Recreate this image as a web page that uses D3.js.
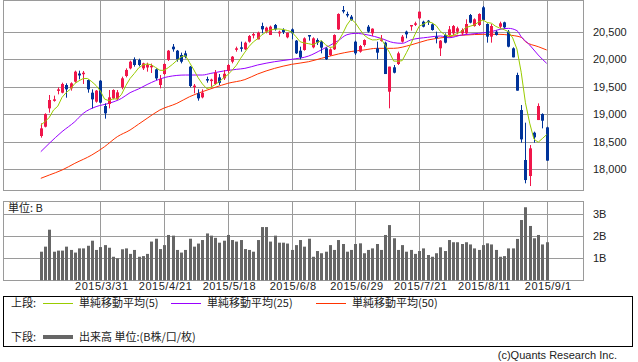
<html>
<head>
<meta charset="utf-8">
<script src="https://d3js.org/d3.v7.min.js"></script>
<style>
  body { margin: 0; background: #fff; }
  text { font-family: "Liberation Sans", Arial, sans-serif; font-size: 11px; fill: #222; }
  .jp { font-family: "Noto Sans CJK JP", sans-serif; }
</style>
</head>
<body>
<svg width="638" height="362"></svg>
<script>
// daily OHLC, 2015/3/11 .. 2015/9/1
const open = [18605,18774,19107,19253,19428,19392,19531,19471,19592,19740,19732,19622,19392,19229,19610,19150,19186,19289,19280,19489,
  19695,19834,19998,19986,19834,19850,19860,19816,19531,19731,19986,20228,20155,20077,20107,19865,19500,19380,19307,19640,
  19610,19550,19670,19653,19792,19955,20180,20216,20180,20319,20434,20361,20603,20501,20440,20622,20470,20531,20398,20543,
  20337,20155,20168,20440,20216,20350,20319,20198,20077,20180,20543,20894,20822,20773,20319,20137,20258,20591,20470,20198,
  20337,20301,19410,19853,19913,20319,20501,20610,20640,20743,20682,20700,20634,20410,20198,20440,20440,20470,20500,20470,
  20470,20803,20603,20622,20943,20640,20410,20500,20591,20670,20501,20198,19713,19077,18169,17878,18665,18895,19004,18762];
const high = [18835,19017,19350,19338,19489,19574,19562,19580,19792,19792,19786,19634,19453,19441,19622,19198,19441,19453,19440,19683,
  19834,19974,20034,20010,19937,19937,19920,19834,19713,19925,20168,20276,20168,20119,20155,19877,19550,19453,19453,19683,
  19646,19804,19731,19804,19913,20058,20228,20319,20319,20440,20482,20501,20664,20591,20610,20640,20519,20561,20482,20561,
  20349,20228,20398,20440,20398,20380,20337,20216,20198,20452,20834,20967,20864,20803,20337,20258,20361,20622,20561,20319,
  20440,20319,19865,19895,20137,20440,20519,20622,20682,20864,20700,20713,20652,20501,20349,20470,20603,20622,20591,20561,
  20725,20822,20743,20834,20967,20652,20640,20520,20682,20682,20531,20216,19755,19168,18847,18441,18684,19198,19017,18774];
const low = [18575,18762,19029,19229,19362,19380,19301,19429,19574,19634,19550,19392,19107,19211,19198,18920,19107,19271,19260,19453,
  19671,19816,19865,19870,19804,19774,19750,19622,19471,19713,19968,20137,19955,19925,20016,19489,19380,19247,19289,19574,
  19490,19531,19531,19622,19756,19925,20137,20137,20168,20301,20379,20361,20470,20470,20440,20519,20410,20458,20380,20361,
  20095,19998,20155,20337,20198,20258,20107,19986,20058,20168,20531,20834,20761,20700,20077,20119,20228,20482,20422,19998,
  20319,19731,19108,19743,19895,20301,20380,20519,20603,20725,20579,20622,20519,20288,20058,20288,20422,20440,20452,20440,
  20458,20652,20591,20603,20700,20301,20301,20430,20561,20561,20216,20034,19429,18484,17745,17696,18484,18895,18744,18157];
const close = [18744,19005,19259,19271,19452,19550,19453,19562,19774,19705,19755,19453,19271,19429,19211,19017,19307,19441,19398,19653,
  19805,19955,19895,19895,19925,19900,19880,19652,19640,19913,20155,20180,19998,19955,20046,19513,19520,19289,19392,19620,
  19630,19756,19570,19736,19895,20046,20198,20200,20300,20422,20458,20482,20543,20573,20591,20543,20500,20495,20482,20470,
  20107,20034,20379,20422,20379,20301,20210,19998,20180,20440,20822,20870,20797,20713,20107,20240,20349,20501,20555,20119,
  20361,19731,19865,19755,20107,20410,20452,20622,20652,20864,20591,20676,20531,20392,20337,20301,20543,20603,20561,20531,
  20640,20664,20725,20822,20713,20410,20603,20440,20652,20579,20228,20034,19429,18544,17805,18381,18581,19150,18883,18157];
// volume, billions of shares
const volume = [1.30,1.53,2.30,1.30,1.35,1.35,1.53,1.38,1.26,1.45,1.45,1.57,1.80,1.38,1.51,1.60,1.48,1.07,1.00,1.41,
  1.45,1.20,1.38,1.07,1.10,1.20,1.76,1.89,1.42,1.60,2.06,2.03,1.38,1.26,1.38,1.89,1.53,1.67,1.83,2.13,
  2.03,1.93,1.71,1.80,2.06,1.83,1.76,1.83,1.42,1.38,1.30,1.83,2.42,2.42,1.76,2.03,1.71,1.71,1.67,1.38,
  1.60,1.83,1.53,1.89,1.07,1.33,1.23,1.30,1.60,1.38,1.83,1.65,1.30,1.38,1.65,1.68,1.23,1.38,1.45,1.65,
  1.38,2.06,2.51,1.91,1.38,1.60,1.30,1.38,1.20,1.33,1.45,1.15,1.07,1.23,1.50,1.33,1.83,1.73,1.73,1.65,
  1.73,1.63,1.45,1.38,1.60,1.68,1.63,1.38,1.07,1.10,1.45,1.45,1.88,2.74,3.32,2.47,1.91,2.06,1.63,1.73];

// moving averages: [day index, value]
const ma5Head = [18805, 18865, 18944, 19077];
const ma25Pts = [[0,18320],[2,18472],[5,18684],[8,18865],[10,19017],[13,19138],[16,19198],[19,19289],[21,19392],[23,19460],
  [25,19540],[27,19610],[30,19683],[34,19713],[38,19713],[40,19743],[43,19786],[46,19816],[48,19834],[51,19895],[55,19955],
  [59,19998],[63,20058],[66,20170],[70,20340],[72,20445],[74,20470],[77,20440],[80,20380],[83,20301],[85,20289],[87,20349],
  [91,20398],[94,20422],[96,20390],[99,20440],[103,20470],[106,20501],[108,20543],[110,20561],[112,20519],[113,20410],
  [115,20258],[117,20077],[119,19925]];
const ma50Pts = [[0,17836],[2,17896],[5,17987],[8,18108],[12,18260],[15,18411],[18,18593],[21,18714],[23,18820],[25,18926],
  [28,19077],[32,19198],[35,19319],[38,19410],[41,19489],[44,19562],[48,19630],[51,19731],[55,19834],[59,19907],[63,19955],
  [66,20016],[70,20095],[73,20140],[76,20168],[79,20198],[83,20198],[87,20258],[91,20349],[95,20398],[97,20422],[100,20440],
  [104,20452],[108,20452],[110,20440],[113,20398],[114,20319],[117,20228],[119,20168]];

const priceTicks = [18000, 18500, 19000, 19500, 20000, 20500];
const volTicks = [1, 2, 3];
const dateTickIdx = [14, 29, 44, 59, 74, 89, 104, 119];
const dateTickLabels = ['2015/3/31','2015/4/21','2015/5/18','2015/6/8','2015/6/29','2015/7/21','2015/8/11','2015/9/1'];

const svg = d3.select('svg');
const L = 3, R = 583;
const x = d3.scaleLinear().domain([0, 119]).range([40.8, 546.7]);
const y = d3.scaleLinear().domain([18000, 20500]).range([169.3, 31.7]);
const yv = d3.scaleLinear().domain([0, 3]).range([280.3, 214.3]);
const px = i => Math.round(x(i));
const grid = '#9a9a9a';

// --- grids and frames
function hline(yy, x1, x2) {
  svg.append('line').attr('x1', x1).attr('x2', x2).attr('y1', Math.round(yy) + .5).attr('y2', Math.round(yy) + .5)
    .attr('stroke', grid);
}
priceTicks.forEach(p => hline(y(p), L, R));
volTicks.forEach(v => hline(yv(v), L, R));
dateTickIdx.forEach(i => {
  [[1, 190], [201, 280]].forEach(([a, b]) => {
    svg.append('line').attr('x1', px(i) + .5).attr('x2', px(i) + .5).attr('y1', a).attr('y2', b).attr('stroke', grid);
  });
});
svg.append('rect').attr('x', L + .5).attr('y', .5).attr('width', R - L).attr('height', 190)
  .attr('fill', 'none').attr('stroke', grid);
svg.append('rect').attr('x', L + .5).attr('y', 201.5).attr('width', R - L).attr('height', 79)
  .attr('fill', 'none').attr('stroke', grid);

// --- volume bars
svg.append('g').selectAll('rect').data(volume).join('rect')
  .attr('x', (d, i) => px(i) - 1).attr('width', 3)
  .attr('y', d => yv(d)).attr('height', d => yv(0) - yv(d))
  .attr('fill', '#666');

// --- moving averages
const line = d3.line().x(d => x(d[0])).y(d => y(d[1]));
const ma5 = close.map((c, i) => [i, i < 4 ? ma5Head[i] : d3.mean(close.slice(i - 4, i + 1))]);
svg.append('path').datum(ma50Pts).attr('d', line.curve(d3.curveMonotoneX)).attr('fill', 'none').attr('stroke', '#ff3300').attr('stroke-width', 1);
svg.append('path').datum(ma25Pts).attr('d', line.curve(d3.curveMonotoneX)).attr('fill', 'none').attr('stroke', '#9900ff').attr('stroke-width', 1);

// --- candles
const red = '#f0164a', blue = '#003399';
const candles = svg.append('g').selectAll('g').data(close).join('g')
  .attr('fill', (c, i) => c >= open[i] ? red : blue)
  .attr('stroke', (c, i) => c >= open[i] ? red : blue);
candles.append('line')
  .attr('x1', (c, i) => px(i) + .5).attr('x2', (c, i) => px(i) + .5)
  .attr('y1', (c, i) => y(high[i])).attr('y2', (c, i) => y(low[i]));
candles.append('rect').attr('stroke', 'none')
  .attr('x', (c, i) => px(i) - 1).attr('width', 3)
  .attr('y', (c, i) => y(Math.max(c, open[i])))
  .attr('height', (c, i) => Math.max(1.5, Math.abs(y(c) - y(open[i]))));

svg.append('path').datum(ma5).attr('d', line.curve(d3.curveLinear)).attr('fill', 'none').attr('stroke', '#99cc00').attr('stroke-width', 1);

// --- axes
const ya = svg.append('g').attr('transform', `translate(${R},0)`)
  .call(d3.axisRight(y).tickValues(priceTicks).tickFormat(d3.format(',')).tickSize(0).tickPadding(10));
const va = svg.append('g').attr('transform', `translate(${R},0)`)
  .call(d3.axisRight(yv).tickValues(volTicks).tickFormat(d => d + 'B').tickSize(0).tickPadding(10));
const xa = svg.append('g').attr('transform', 'translate(0,280.5)')
  .call(d3.axisBottom(x).tickValues(dateTickIdx).tickFormat((d, i) => dateTickLabels[i]).tickSize(0).tickPadding(2));
[ya, va, xa].forEach(g => {
  g.select('.domain').remove();
  g.attr('font-family', null).attr('font-size', null);
  g.selectAll('text').attr('fill', '#222');
});
xa.selectAll('text').attr('transform', 'translate(1,0)').style('letter-spacing', '0.5px');

svg.append('text').attr('class', 'jp').attr('x', 8).attr('y', 212).text('単位: B');

// --- legend
svg.append('rect').attr('x', 3.5).attr('y', 296.5).attr('width', 629).attr('height', 50)
  .attr('fill', 'none').attr('stroke', '#000');
const legItems = [
  { x: 43, name: '単純移動平均(5)', color: '#99cc00' },
  { x: 171, name: '単純移動平均(25)', color: '#9900ff' },
  { x: 316, name: '単純移動平均(50)', color: '#ff3300' }
];
svg.append('text').attr('class', 'jp').attr('x', 11).attr('y', 307).text('上段:');
legItems.forEach(d => {
  svg.append('line').attr('x1', d.x).attr('x2', d.x + 30).attr('y1', 303.5).attr('y2', 303.5).attr('stroke', d.color);
  svg.append('text').attr('class', 'jp').attr('x', d.x + 36).attr('y', 307).text(d.name);
});
svg.append('text').attr('class', 'jp').attr('x', 11).attr('y', 341).text('下段:');
svg.append('line').attr('x1', 43).attr('x2', 73).attr('y1', 337).attr('y2', 337).attr('stroke', '#666').attr('stroke-width', 4);
svg.append('text').attr('class', 'jp').attr('x', 79).attr('y', 341).text('出来高 単位:(B株/口/枚)');

svg.append('text').attr('x', 617).attr('y', 359).attr('text-anchor', 'end').attr('fill', '#333').text('(c)Quants Research Inc.');
</script>
</body>
</html>
